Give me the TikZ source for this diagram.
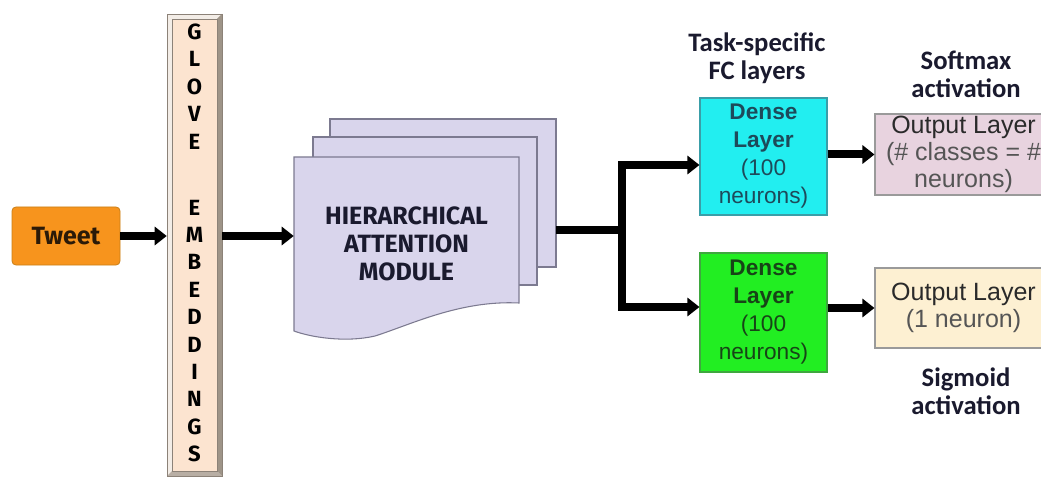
\documentclass[tikz,border=0pt]{standalone}
\usepackage{fontspec}
\setmainfont{Liberation Sans}
\newfontfamily\ubf{Fira Sans}
\newfontfamily\calfont{Carlito}
\usetikzlibrary{arrows.meta}
\definecolor{tweetfill}{HTML}{F7941D}
\definecolor{tweetdraw}{HTML}{C98018}
\definecolor{tweettext}{HTML}{2B1A08}
\definecolor{glovefill}{HTML}{FCE4D0}
\definecolor{bevlight}{HTML}{F3EDE7}
\definecolor{bevdark}{HTML}{9E9488}
\definecolor{bevmid}{HTML}{B8AEA4}
\definecolor{bevline}{HTML}{8C8278}
\definecolor{hamfill}{HTML}{D9D5EC}
\definecolor{hamdraw}{HTML}{7C7A90}
\definecolor{cyanfill}{HTML}{22EEF0}
\definecolor{cyandraw}{HTML}{3A9EA8}
\definecolor{cyantext}{HTML}{1D4A5A}
\definecolor{greenfill}{HTML}{22EE22}
\definecolor{greendraw}{HTML}{3EA83E}
\definecolor{greentext}{HTML}{174417}
\definecolor{pinkfill}{HTML}{E8D3DF}
\definecolor{creamfill}{HTML}{FDF0D2}
\definecolor{outdraw}{HTML}{9A9A9A}
\definecolor{outdark}{HTML}{2A2A2A}
\definecolor{outgrey}{HTML}{555555}
\definecolor{labeltext}{HTML}{1A1A2E}
\begin{document}
\begin{tikzpicture}[x=0.75pt,y=-0.75pt,
  arr/.style={line width=6pt,black,-{Triangle[length=9pt,width=13.5pt]}},
  denseA/.style={draw=cyandraw,fill=cyanfill,line width=0.8pt,minimum width=95.25pt,minimum height=87.75pt,inner sep=0pt,text=cyantext,align=center,font=\fontsize{17pt}{21pt}\selectfont},
  denseB/.style={draw=greendraw,fill=greenfill,line width=0.8pt,minimum width=95.25pt,minimum height=89.25pt,inner sep=0pt,text=greentext,align=center,font=\fontsize{17pt}{21pt}\selectfont},
  outbox/.style={draw=outdraw,line width=0.8pt,minimum width=132.75pt,inner sep=0pt,text=outgrey,align=center,font=\fontsize{18.75pt}{20.25pt}\selectfont},
  lbl/.style={text=labeltext,align=center,font=\calfont\bfseries\fontsize{20pt}{21pt}\selectfont},
  doc/.style={fill=hamfill,draw=hamdraw,line width=0.8pt}]
\useasboundingbox (0,0) rectangle (1041,477);
\clip (0,0) rectangle (1041,477);

% Tweet
\node[draw=tweetdraw,fill=tweetfill,rounded corners=3pt,line width=0.6pt,minimum width=81pt,minimum height=43.5pt,inner sep=0pt,text=tweettext,font=\ubf\bfseries\fontsize{18.75pt}{20pt}\selectfont] (tweet) at (66,236) {Tweet};

% GloVe column with bevel
\fill[bevlight] (167,14) rectangle (222,476);
\fill[bevdark] (222,14) -- (222,476) -- (217,471) -- (217,19) -- cycle;
\fill[bevmid] (167,476) -- (222,476) -- (217,471) -- (172,471) -- cycle;
\fill[glovefill] (172,19) rectangle (217,471);
\draw[bevline,line width=0.5pt] (172,19) rectangle (217,471);
\draw[bevline,line width=0.7pt] (167,14) rectangle (222,476);
\node[minimum width=41.25pt,minimum height=346.5pt,inner sep=0pt,align=center,text=black,font=\ubf\bfseries\fontsize{16.5pt}{20.55pt}\selectfont] (glove) at (194.5,243)
  {G\\L\\O\\V\\E\\[29pt]E\\M\\B\\E\\D\\D\\I\\N\\G\\S};

% Hierarchical attention module (stacked documents)
\draw[doc] (330,119) -- (556,119) -- (556,267) -- (330,267) -- cycle;
\draw[doc] (313,137) -- (537,137) -- (537,285) -- (313,285) -- cycle;
\draw[doc] (294,157) -- (519,157) -- (519,303)
  .. controls (460,300) and (410,325) .. (375,336)
  .. controls (345,343) and (310,337) .. (294,331) -- cycle;
\node[minimum width=168.75pt,minimum height=129.75pt,inner sep=0pt,align=center,text=labeltext,font=\ubf\bfseries\fontsize{18.75pt}{21pt}\selectfont] (ham) at (406.5,243.5)
  {HIERARCHICAL\\ATTENTION\\MODULE};

% Dense layers
\node[denseA] (dense1) at (763.5,156.5) {\textbf{Dense}\\\textbf{Layer}\\(100\\neurons)};
\node[denseB] (dense2) at (763.5,312.5) {\textbf{Dense}\\\textbf{Layer}\\(100\\neurons)};

% Output layers
\node[outbox,fill=pinkfill,minimum height=60.75pt] (out1) at (963.5,154.5)
  {\textcolor{outdark}{Output Layer}\\(\# classes = \#\\neurons)};
\node[outbox,fill=creamfill,minimum height=60pt] (out2) at (963.5,308)
  {\textcolor{outdark}{Output Layer}\\(1 neuron)};

% Labels
\node[lbl] (task) at (757,58) {Task-specific\\FC layers};
\node[lbl] (soft) at (966,74) {Softmax\\activation};
\node[lbl] (sig) at (966,391) {Sigmoid\\activation};

% Connectors
\coordinate (hamout) at (556,230);
\coordinate (split) at (622,230);
\coordinate (b1) at (622,165);
\coordinate (b2) at (622,307);
\draw[arr] (tweet.east) -- (tweet.east -| glove.west);
\draw[arr] (tweet.east -| glove.east) -- (tweet.east -| ham.west);
\draw[arr,line join=miter] (hamout) -- (split) |- (b1 -| dense1.west);
\draw[arr,line join=miter] (split) |- (b2 -| dense2.west);
\draw[arr] (dense1.east |- out1.west) -- (out1.west);
\draw[arr] (dense2.east |- out2.west) -- (out2.west);
\end{tikzpicture}
\end{document}
